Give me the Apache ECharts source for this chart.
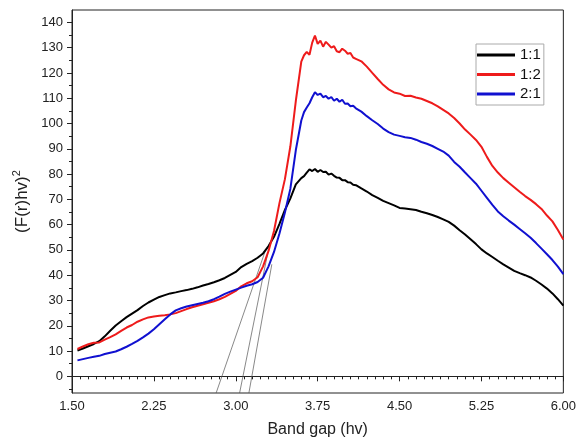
<!DOCTYPE html>
<html>
<head>
<meta charset="utf-8">
<script src="https://cdn.jsdelivr.net/npm/echarts@6/dist/echarts.min.js"></script>
<style>
  html, body { margin: 0; padding: 0; background: #fff; }
  #chart { width: 579px; height: 443px; }
</style>
</head>
<body>
<div id="chart"></div>
<script>
// Photon energy (band gap axis, eV); sampled more finely around the absorption maximum
const bandGap = [
  1.55, 1.60, 1.65, 1.70, 1.75, 1.80, 1.85, 1.90, 1.95, 2.00,
  2.05, 2.10, 2.15, 2.20, 2.25, 2.30, 2.35, 2.40, 2.45, 2.50,
  2.55, 2.60, 2.65, 2.70, 2.75, 2.80, 2.85, 2.90, 2.95, 3.00,
  3.05, 3.10, 3.15, 3.20, 3.25, 3.30, 3.35, 3.40, 3.45, 3.50,
  3.55, 3.60, 3.625, 3.65, 3.675, 3.70, 3.725, 3.75, 3.775, 3.80,
  3.825, 3.85, 3.875, 3.90, 3.925, 3.95, 3.975, 4.00, 4.025, 4.05,
  4.075, 4.10, 4.15, 4.20, 4.25, 4.30, 4.35, 4.40, 4.45, 4.50,
  4.55, 4.60, 4.65, 4.70, 4.75, 4.80, 4.85, 4.90, 4.95, 5.00,
  5.05, 5.10, 5.15, 5.20, 5.25, 5.30, 5.35, 5.40, 5.45, 5.50,
  5.55, 5.60, 5.65, 5.70, 5.75, 5.80, 5.85, 5.90, 5.95, 6.00
];

// (F(r)hv)^2 for each sample ratio
const ratio11 = [
  10.2, 11.0, 11.9, 12.8, 13.9, 15.8, 18.0, 20.1, 21.8, 23.4,
  24.8, 26.2, 27.8, 29.2, 30.3, 31.4, 32.1, 32.8, 33.2, 33.7,
  34.1, 34.6, 35.2, 35.9, 36.5, 37.2, 38.0, 38.9, 40.1, 41.3,
  43.2, 44.5, 45.6, 46.9, 48.6, 51.5, 55.2, 60.3, 65.8, 70.4,
  75.9, 78.4, 79.2, 80.6, 81.9, 81.2, 82.0, 80.9, 81.6, 80.8,
  80.9, 79.8, 80.2, 79.3, 78.6, 78.5, 77.6, 77.6, 76.8, 76.7,
  75.8, 75.6, 74.3, 73.1, 71.7, 70.6, 69.4, 68.5, 67.6, 66.6,
  66.4, 66.1, 65.8, 65.1, 64.5, 63.8, 63.0, 62.1, 61.1, 59.6,
  57.8, 56.1, 54.2, 52.3, 50.2, 48.6, 47.2, 45.7, 44.3, 43.0,
  41.7, 40.8, 40.0, 39.1, 37.8, 36.3, 34.7, 32.8, 30.5, 28.0
];
const ratio12 = [
  10.8, 11.8, 12.7, 13.3, 13.4, 14.5, 15.5, 16.6, 18.0, 19.3,
  20.3, 21.6, 22.5, 23.3, 23.7, 24.0, 24.2, 24.5, 25.0, 25.8,
  26.6, 27.3, 27.9, 28.5, 29.1, 29.7, 30.5, 31.4, 32.6, 33.8,
  35.6, 36.8, 37.6, 39.2, 43.5, 49.6, 57.5, 68.5, 78.0, 91.0,
  109.0, 124.5, 127.0, 128.3, 127.2, 132.0, 134.8, 131.5, 132.8, 130.4,
  132.3, 131.2, 130.0, 130.6, 128.6, 128.2, 129.6, 128.8, 127.6, 127.9,
  126.1, 125.6, 124.6, 122.5, 120.0, 117.6, 115.3, 113.5, 112.3, 111.8,
  110.9, 111.0, 110.3, 109.8, 108.9, 108.0, 106.8, 105.4, 104.0, 102.2,
  100.0, 97.6, 95.6, 93.5, 90.8, 86.8, 83.2, 80.6, 78.4, 76.6,
  74.8, 73.0, 71.3, 69.8, 68.1, 66.2, 63.6, 61.3, 57.9, 54.1
];
const ratio21 = [
  6.3, 6.8, 7.3, 7.7, 8.1, 8.8, 9.3, 9.8, 10.7, 11.7,
  12.8, 14.0, 15.4, 16.9, 18.6, 20.6, 22.6, 24.5, 26.1, 26.9,
  27.6, 28.1, 28.6, 29.1, 29.7, 30.5, 31.5, 32.6, 33.5, 34.3,
  35.1, 35.8, 36.4, 37.3, 39.0, 43.5, 49.2, 56.5, 64.8, 74.2,
  89.5, 101.2, 104.5, 106.3, 108.0, 110.4, 112.4, 111.3, 111.8, 110.4,
  110.9, 109.8, 110.5, 109.0, 109.8, 108.6, 109.4, 107.8, 107.9, 106.8,
  107.0, 106.0, 104.7, 102.9, 101.3, 99.8, 98.0, 96.6, 95.6, 95.1,
  94.6, 94.3, 93.6, 92.7, 92.0, 91.1, 90.0, 88.9, 87.3, 84.8,
  82.9, 80.6, 78.4, 76.2, 73.4, 70.6, 67.8, 65.2, 63.3, 61.6,
  60.0, 58.3, 56.6, 54.8, 52.7, 50.5, 48.3, 46.0, 43.4, 40.4
];

const seriesNames = ['1:1', '1:2', '2:1'];
const seriesColors = ['#000000', '#ee1b1b', '#1010d0'];

// Tauc extrapolation lines: foot on the energy axis and upper end on the edge
const tangentFoot = [2.82, 3.035, 3.12];
const tangentTop = [[3.27, 49.6], [3.29, 48.2], [3.33, 44.3]];

// Axis ranges and tick values
const xMin = 1.5, xMax = 6.0, xStep = 0.75;
const yMin = -6.6, yMax = 144.9;
const yMajor = [0, 10, 20, 30, 40, 50, 60, 70, 80, 90, 100, 110, 120, 130, 140];
const yMinor = [-5, 5, 15, 25, 35, 45, 55, 65, 75, 85, 95, 105, 115, 125, 135];

const pair = (ys) => bandGap.map((x, i) => [x, ys[i]]);
const curves = [ratio11, ratio12, ratio21];

const font = 'Liberation Sans, Arial, sans-serif';

const series = curves.map((ys, k) => ({
  name: seriesNames[k],
  type: 'line',
  data: pair(ys),
  symbol: 'none',
  smooth: false,
  lineStyle: { color: seriesColors[k], width: 2 },
  itemStyle: { color: seriesColors[k] },
  z: 3
}));

tangentFoot.forEach((foot, k) => {
  series.push({
    name: 'tangent' + k,
    type: 'line',
    data: [[foot, yMin], tangentTop[k]],
    symbol: 'none',
    silent: true,
    lineStyle: { color: '#555', width: 0.7 },
    z: 1
  });
});

const chart = echarts.init(document.getElementById('chart'), null, { renderer: 'canvas' });
chart.setOption({
  animation: false,
  backgroundColor: '#fff',
  grid: {
    left: 72, right: 13, top: 10, bottom: 42,
    show: true, borderColor: '#222', borderWidth: 1, backgroundColor: 'transparent'
  },
  legend: {
    data: seriesNames,
    orient: 'vertical',
    left: 476, top: 44,
    icon: 'rect',
    itemWidth: 38, itemHeight: 3,
    itemGap: 3.5,
    padding: [3, 3, 3, 1],
    borderColor: '#aaa', borderWidth: 1,
    backgroundColor: '#fff',
    textStyle: { fontFamily: font, fontSize: 15, color: '#111', lineHeight: 16 }
  },
  xAxis: {
    type: 'value',
    min: xMin, max: xMax, interval: xStep,
    name: 'Band gap (hv)',
    nameLocation: 'middle',
    nameGap: 29,
    nameTextStyle: { fontFamily: font, fontSize: 16, color: '#222' },
    axisLine: { show: true, lineStyle: { color: '#222', width: 1 } },
    axisTick: { show: true, inside: false, length: 5, lineStyle: { color: '#222' } },
    minorTick: { show: true, splitNumber: 10, length: 3, lineStyle: { color: '#222' } },
    splitLine: { show: false },
    minorSplitLine: { show: false },
    axisLabel: {
      fontFamily: font, fontSize: 13, color: '#222', margin: 7,
      formatter: (v) => v.toFixed(2)
    }
  },
  yAxis: [
    {
      type: 'value',
      min: yMin, max: yMax,
      name: '{b|(F(r)hv)}{s|2}',
      nameLocation: 'middle',
      nameGap: 39,
      nameRotate: 90,
      nameTextStyle: {
        fontFamily: font, color: '#222',
        rich: {
          b: { fontFamily: font, fontSize: 17, color: '#222' },
          s: { fontFamily: font, fontSize: 11, color: '#222', verticalAlign: 'top', padding: [0, 0, 9, 0] }
        }
      },
      axisLine: { show: true, lineStyle: { color: '#222', width: 1 } },
      axisTick: { show: true, inside: false, length: 5, customValues: yMajor, lineStyle: { color: '#222' } },
      splitLine: { show: false },
      axisLabel: {
        fontFamily: font, fontSize: 13, color: '#222', margin: 9,
        customValues: yMajor
      }
    },
    {
      type: 'value',
      min: yMin, max: yMax,
      position: 'left',
      axisLine: { show: false },
      axisTick: { show: true, inside: false, length: 3, customValues: yMinor, lineStyle: { color: '#222' } },
      axisLabel: { show: false, customValues: yMinor },
      splitLine: { show: false }
    }
  ],
  series: series
});
</script>
</body>
</html>
